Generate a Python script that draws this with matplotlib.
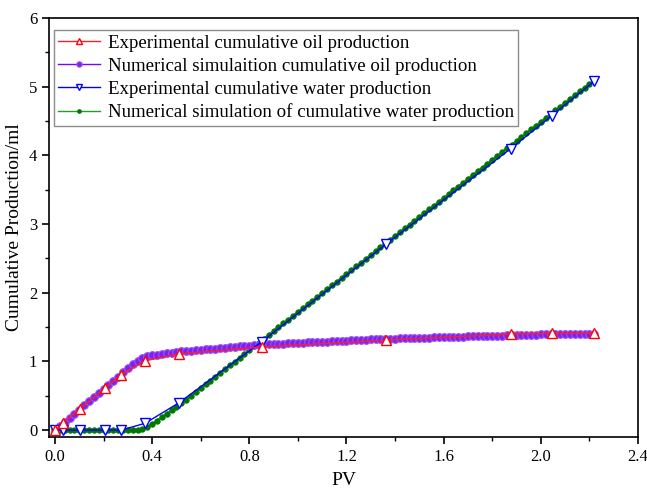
import numpy as np
import matplotlib
matplotlib.use("Agg")
import matplotlib.pyplot as plt
from matplotlib.ticker import MultipleLocator, FormatStrFormatter

plt.rcParams['font.family'] = ['Liberation Serif', 'DejaVu Serif']

# Experimental data (PV, cumulative production in ml)
pv_exp = [0.0, 0.034, 0.103, 0.206, 0.272, 0.371, 0.511, 0.852, 1.364, 1.876, 2.045, 2.22]
oil_exp = [0.0, 0.11, 0.31, 0.61, 0.81, 1.01, 1.11, 1.21, 1.31, 1.40, 1.41, 1.41]
water_exp = [0.0, 0.0, 0.0, 0.0, 0.0, 0.10, 0.40, 1.29, 2.71, 4.10, 4.58, 5.08]

# Numerical simulation, sampled every 0.02 PV
pv_sim = np.round(np.arange(0, 2.2201, 0.02), 2)
oil_sim = [
    0.00, 0.06, 0.12, 0.18, 0.24, 0.30, 0.36, 0.42, 0.48, 0.54,
    0.60, 0.66, 0.72, 0.78, 0.84, 0.90, 0.96, 1.01, 1.05, 1.075,
    1.09, 1.10, 1.11, 1.12, 1.13, 1.14, 1.146, 1.152, 1.158, 1.164,
    1.170, 1.176, 1.182, 1.188, 1.194, 1.200, 1.206, 1.212, 1.218, 1.224,
    1.230, 1.236, 1.242, 1.248, 1.251, 1.254, 1.258, 1.261, 1.264, 1.268,
    1.271, 1.274, 1.277, 1.281, 1.284, 1.287, 1.290, 1.294, 1.297, 1.300,
    1.304, 1.307, 1.310, 1.313, 1.317, 1.320, 1.323, 1.326, 1.330, 1.332,
    1.334, 1.336, 1.338, 1.340, 1.342, 1.344, 1.346, 1.348, 1.350, 1.352,
    1.354, 1.356, 1.358, 1.360, 1.362, 1.364, 1.366, 1.368, 1.370, 1.372,
    1.374, 1.376, 1.378, 1.380, 1.382, 1.384, 1.386, 1.388, 1.390, 1.392,
    1.394, 1.396, 1.397, 1.398, 1.399, 1.400, 1.401, 1.402, 1.403, 1.404,
    1.405, 1.406,
]
water_sim = [
    0.0, 0.0, 0.0, 0.0, 0.0, 0.0, 0.0, 0.0, 0.0, 0.0,
    0.0, 0.0, 0.0, 0.0, 0.0, 0.0, 0.0, 0.005, 0.02, 0.05,
    0.09, 0.14, 0.19, 0.24, 0.29, 0.34, 0.39, 0.445, 0.50, 0.556,
    0.61, 0.667, 0.722, 0.778, 0.833, 0.889, 0.944, 0.999, 1.055, 1.11,
    1.166, 1.221, 1.276, 1.332, 1.387, 1.443, 1.498, 1.553, 1.609, 1.664,
    1.72, 1.775, 1.83, 1.886, 1.941, 1.997, 2.052, 2.107, 2.163, 2.218,
    2.274, 2.329, 2.384, 2.44, 2.495, 2.551, 2.606, 2.661, 2.717, 2.772,
    2.828, 2.883, 2.938, 2.994, 3.049, 3.105, 3.16, 3.215, 3.271, 3.326,
    3.382, 3.437, 3.492, 3.548, 3.603, 3.659, 3.714, 3.769, 3.825, 3.88,
    3.936, 3.991, 4.046, 4.102, 4.157, 4.213, 4.268, 4.323, 4.379, 4.434,
    4.49, 4.545, 4.60, 4.656, 4.711, 4.767, 4.822, 4.877, 4.933, 4.988,
    5.044, 5.099,
]

fig = plt.figure(figsize=(6.47, 4.91), dpi=100)
ax = fig.add_axes([0.0757, 0.110, 0.9103, 0.853])

ax.plot(pv_exp, oil_exp, color='#ff2020', lw=1.0, marker='^', ms=7,
        mfc='white', mec='#ff0000', mew=1.0, zorder=5,
        label='Experimental cumulative oil production')
ax.plot(pv_sim, oil_sim, color='#8000ff', lw=2.0, marker='o', ms=5.5,
        mfc='#8020e8', mec='#9a50ff', mew=0.8, zorder=3,
        label='Numerical simulaition cumulative oil production')
ax.plot(pv_exp, water_exp, color='#0000ff', lw=1.0, marker='v', ms=7,
        mfc='white', mec='#0000ff', mew=1.0, zorder=4,
        label='Experimental cumulative water production')
ax.plot(pv_sim, water_sim, color='#20a020', lw=1.5, marker='o', ms=4,
        mfc='#007800', mec='#007800', mew=0.5, zorder=2,
        label='Numerical simulation of cumulative water production')

ax.set_xlim(-0.025, 2.4)
ax.set_ylim(-0.1, 6)
ax.xaxis.set_major_locator(MultipleLocator(0.4))
ax.xaxis.set_minor_locator(MultipleLocator(0.2))
ax.yaxis.set_major_locator(MultipleLocator(1))
ax.yaxis.set_minor_locator(MultipleLocator(0.5))
ax.xaxis.set_major_formatter(FormatStrFormatter('%.1f'))
ax.tick_params(which='major', direction='out', length=5, width=1.2,
               labelsize=12, top=False, right=False)
ax.tick_params(which='minor', direction='out', length=3, width=1.0,
               top=False, right=False)
for s in ax.spines.values():
    s.set_linewidth(1.2)

ax.set_xlabel('PV', fontsize=14, labelpad=5)
ax.set_ylabel('Cumulative Production/ml', fontsize=14, labelpad=4)

leg = ax.legend(loc='upper left', bbox_to_anchor=(0.008, 0.972), fontsize=13.6,
                frameon=True, fancybox=False, edgecolor='#707070',
                handlelength=2.2, labelspacing=0.3, borderpad=0.25,
                handletextpad=0.4, borderaxespad=0.0, markerscale=0.7)
leg.get_frame().set_linewidth(1.0)
for h in leg.get_lines():
    h.set_linewidth(1.0)

fig.savefig('out.png', dpi=100)
